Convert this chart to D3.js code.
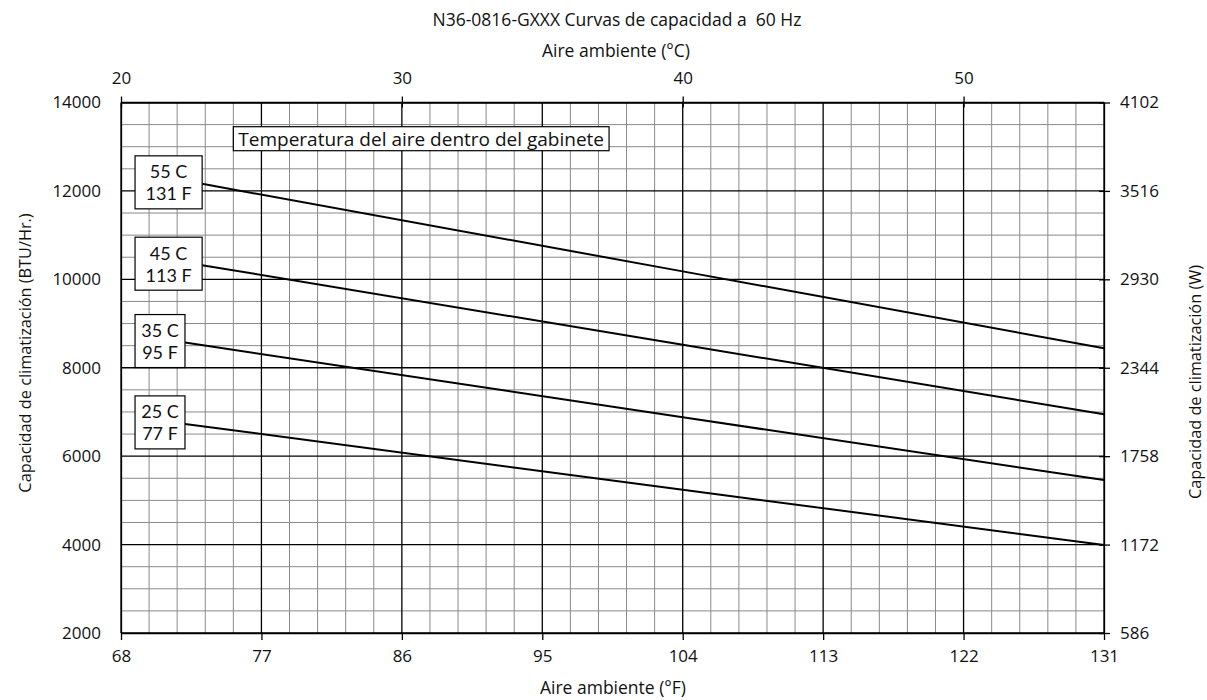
<!DOCTYPE html>
<html>
<head>
<meta charset="utf-8">
<script src="https://cdn.jsdelivr.net/npm/d3@7"></script>
<style>
    body { margin: 0; background: #fff; }
    svg text { font-family: "Open Sans", "Noto Sans", sans-serif; fill: #111; white-space: pre; }
    svg text.box-label { font-family: Lato, "Open Sans", sans-serif; }
</style>
</head>
<body>
<div id="main"></div>
<script>
// ambient air (°F) where each curve was read (curves start at the label box)
var ambF25 = [72.1, 104, 131];
var ambF35 = [72.1, 104, 131];
var ambF45 = [73.2, 104, 131];
var ambF55 = [73.2, 104, 131];

// cabinet temperature curves, cooling capacity in BTU/Hr.
var cap25 = [6730, 5240, 3990];
var cap35 = [8570, 6880, 5460];
var cap45 = [10320, 8520, 6950];
var cap55 = [12160, 10180, 8440];

var curveLabels = [
    ["25 C", "77 F"],
    ["35 C", "95 F"],
    ["45 C", "113 F"],
    ["55 C", "131 F"]
];

// tick labels
var ticksF = [68, 77, 86, 95, 104, 113, 122, 131];
var ticksC = [20, 30, 40, 50];
var ticksBTU = [2000, 4000, 6000, 8000, 10000, 12000, 14000];
var ticksW = [586, 1172, 1758, 2344, 2930, 3516, 4102];

var title = "N36-0816-GXXX Curvas de capacidad a  60 Hz";
var boxTitle = "Temperatura del aire dentro del gabinete";

var W = 1207, H = 700;
let margin = { top: 102.5, right: 103, bottom: 67, left: 121 };
var width = W - margin.left - margin.right,
    height = H - margin.top - margin.bottom;

var svg = d3.select("#main").append("svg")
    .attr("width", W)
    .attr("height", H);

var xScale = d3.scaleLinear().domain([68, 131]).range([0, width]);
var xScaleC = d3.scaleLinear().domain([20, 55]).range([0, width]);
var yScale = d3.scaleLinear().domain([2000, 14000]).range([height, 0]);
var yScaleW = d3.scaleLinear().domain([586, 4102]).range([height, 0]);

var artboard = svg.append("g")
    .attr("transform", "translate(" + margin.left + "," + margin.top + ")");

// grid - minor every 1 °C and 500 BTU, major every 5 °C and 2000 BTU
var grid = artboard.append("g");
grid.selectAll(".vminor")
    .data(d3.range(20, 56, 1).filter(function (d) { return d % 5 !== 0; }))
    .enter().append("line")
    .attr("x1", function (d) { return xScaleC(d); })
    .attr("x2", function (d) { return xScaleC(d); })
    .attr("y1", 0).attr("y2", height)
    .attr("stroke", "#8a8a8a").attr("stroke-width", 1);
grid.selectAll(".hminor")
    .data(d3.range(2000, 14001, 500).filter(function (d) { return d % 2000 !== 0; }))
    .enter().append("line")
    .attr("x1", 0).attr("x2", width)
    .attr("y1", function (d) { return yScale(d); })
    .attr("y2", function (d) { return yScale(d); })
    .attr("stroke", "#8a8a8a").attr("stroke-width", 1);
grid.selectAll(".vmajor")
    .data(d3.range(20, 56, 5))
    .enter().append("line")
    .attr("x1", function (d) { return xScaleC(d); })
    .attr("x2", function (d) { return xScaleC(d); })
    .attr("y1", 0).attr("y2", height)
    .attr("stroke", "#000").attr("stroke-width", 1.3);
grid.selectAll(".hmajor")
    .data(ticksBTU)
    .enter().append("line")
    .attr("x1", 0).attr("x2", width)
    .attr("y1", function (d) { return yScale(d); })
    .attr("y2", function (d) { return yScale(d); })
    .attr("stroke", "#000").attr("stroke-width", 1.3);

// axes
var fmt = d3.format("d");
var xAxis = d3.axisBottom(xScale).tickValues(ticksF).tickFormat(fmt).tickSize(7).tickSizeOuter(0).tickPadding(10);
var xAxisTop = d3.axisTop(xScaleC).tickValues(ticksC).tickFormat(fmt).tickSize(6).tickSizeOuter(0).tickPadding(13);
var yAxis = d3.axisLeft(yScale).tickValues(ticksBTU).tickFormat(fmt).tickSize(6).tickSizeOuter(0).tickPadding(14);
var yAxisR = d3.axisRight(yScaleW).tickValues(ticksW).tickFormat(fmt).tickSize(6).tickSizeOuter(0).tickPadding(10);

function styleAxis(g) {
    g.selectAll("path").attr("stroke", "#000").attr("stroke-width", 1.3);
    g.selectAll("line").attr("stroke", "#000").attr("stroke-width", 1.3);
    g.selectAll("text").attr("font-size", 17).attr("fill", "#111");
}

artboard.append("g").attr("transform", "translate(0," + height + ")")
    .call(xAxis).call(styleAxis);
artboard.append("g").call(xAxisTop).call(styleAxis)
    .selectAll(".tick line").attr("y2", 5).attr("y1", -6);
artboard.append("g").call(yAxis).call(styleAxis)
    .selectAll(".tick line").attr("x2", 0);
artboard.append("g").attr("transform", "translate(" + width + ",0)")
    .call(yAxisR).call(styleAxis)
    .selectAll(".tick line").attr("x1", -5).attr("x2", 6);

// curves
var series = [
    { f: ambF25, v: cap25 },
    { f: ambF35, v: cap35 },
    { f: ambF45, v: cap45 },
    { f: ambF55, v: cap55 }
];
var line = d3.line()
    .x(function (d) { return xScale(d[0]); })
    .y(function (d) { return yScale(d[1]); });

artboard.selectAll(".curve")
    .data(series)
    .enter().append("path")
    .attr("d", function (s) { return line(d3.zip(s.f, s.v)); })
    .attr("fill", "none")
    .attr("stroke", "#000")
    .attr("stroke-width", 2);

// curve labels - the box ends where each curve starts
var boxLeftF = 68.9;
series.forEach(function (s, i) {
    var g = artboard.append("g");
    var bx = xScale(boxLeftF);
    var bw = xScale(s.f[0]) - bx, bh = 53;
    var cy = yScale(s.v[0]) - 1.5;
    g.append("rect")
        .attr("x", bx).attr("y", cy - bh / 2)
        .attr("width", bw).attr("height", bh)
        .attr("fill", "#fff").attr("stroke", "#000").attr("stroke-width", 1.2);
    g.append("text")
        .attr("class", "box-label")
        .attr("text-anchor", "middle")
        .attr("font-size", 18)
        .selectAll("tspan").data(curveLabels[i]).enter().append("tspan")
        .attr("x", bx + bw / 2)
        .attr("y", function (d, j) { return cy - 4 + j * 22; })
        .text(function (d) { return d; });
});

// legend title box
var lg = artboard.append("g");
var lt = lg.append("text")
    .attr("x", xScale(75.2) + 5)
    .attr("y", yScale(13000) - 1)
    .attr("font-size", 19)
    .text(boxTitle);
var lw = lt.node().getComputedTextLength();
lg.insert("rect", "text")
    .attr("x", xScale(75.2)).attr("y", yScale(13000) - 20)
    .attr("width", lw + 10).attr("height", 24)
    .attr("fill", "#fff").attr("stroke", "#000").attr("stroke-width", 1.2);

// titles
svg.append("text").attr("x", 617).attr("y", 26)
    .attr("text-anchor", "middle").attr("font-size", 17.5).text(title);
svg.append("text").attr("x", 616).attr("y", 57)
    .attr("text-anchor", "middle").attr("font-size", 17.5).text("Aire ambiente (°C)");
svg.append("text").attr("x", 613).attr("y", 694)
    .attr("text-anchor", "middle").attr("font-size", 17.5).text("Aire ambiente (°F)");
svg.append("text")
    .attr("transform", "translate(31,353) rotate(-90)")
    .attr("text-anchor", "middle").attr("font-size", 16.3)
    .text("Capacidad de climatización (BTU/Hr.)");
svg.append("text")
    .attr("transform", "translate(1201,382) rotate(-90)")
    .attr("text-anchor", "middle").attr("font-size", 16.3)
    .text("Capacidad de climatización (W)");
</script>
</body>
</html>
